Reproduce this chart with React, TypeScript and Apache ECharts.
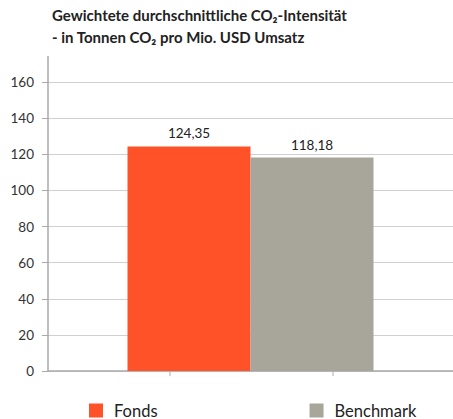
import React, { useEffect, useRef } from "react";
import * as echarts from "echarts";

const categories = [""];
const seriesNames = ["Fonds", "Benchmark"];
const fondsValues = [124.35];
const benchmarkValues = [118.18];
const colors = ["#FF5229", "#A8A59A"];

export default function App() {
  const ref = useRef<HTMLDivElement>(null);
  useEffect(() => {
    if (!ref.current) return;
    const chart = echarts.init(ref.current, undefined, { renderer: "svg" });
    const font = "Lato";
    const label = {
      show: true,
      position: "top",
      distance: 6,
      color: "#222",
      fontSize: 13.5,
      fontFamily: font,
      formatter: (p: any) => p.value.toFixed(2).replace(".", ","),
    };
    chart.setOption({
      animation: false,
      textStyle: { fontFamily: font },
      title: {
        text: "Gewichtete durchschnittliche CO₂-Intensität\n- in Tonnen CO₂ pro Mio. USD Umsatz",
        left: 52,
        top: 4,
        padding: 0,
        textStyle: { fontSize: 15, fontWeight: "bold", color: "#222", fontFamily: font, lineHeight: 22 },
      },
      grid: { left: 48, right: -4, top: 82, bottom: 48 },
      legend: {
        data: seriesNames,
        left: 89,
        top: 402,
        padding: 0,
        itemWidth: 14,
        itemHeight: 14,
        itemGap: 152,
        icon: "rect",
        textStyle: { fontSize: 16.5, color: "#222", fontFamily: font, padding: [0, 0, 0, 6] },
      },
      xAxis: {
        type: "category",
        data: categories,
        axisLine: { lineStyle: { color: "#aaa", width: 1.5 } },
        axisTick: { show: false },
        axisLabel: { show: false },
      },
      yAxis: {
        type: "value",
        min: 0,
        max: 160,
        interval: 20,
        axisLine: { show: true, lineStyle: { color: "#aaa", width: 1.5 } },
        axisTick: { show: true, length: 6, lineStyle: { color: "#aaa" } },
        axisLabel: { color: "#333", fontSize: 13.5, margin: 14, fontFamily: font },
        splitLine: { lineStyle: { color: "#d0d0d0", width: 1.2 } },
      },
      graphic: [
        { type: "line", shape: { x1: 48, y1: 56, x2: 48, y2: 82 }, style: { stroke: "#aaa", lineWidth: 1.5 } },
        { type: "line", shape: { x1: 170, y1: 371, x2: 170, y2: 376 }, style: { stroke: "#aaa", lineWidth: 1 } },
        { type: "line", shape: { x1: 333, y1: 371, x2: 333, y2: 376 }, style: { stroke: "#aaa", lineWidth: 1 } },
      ],
      series: [
        { name: seriesNames[0], type: "bar", data: fondsValues, barWidth: 123, barGap: "0%", itemStyle: { color: colors[0] }, label },
        { name: seriesNames[1], type: "bar", data: benchmarkValues, barWidth: 123, barGap: "0%", itemStyle: { color: colors[1] }, label },
      ],
    });
    return () => chart.dispose();
  }, []);
  return <div ref={ref} style={{ width: 453, height: 419, position: "absolute", left: 0, top: 0 }} />;
}
